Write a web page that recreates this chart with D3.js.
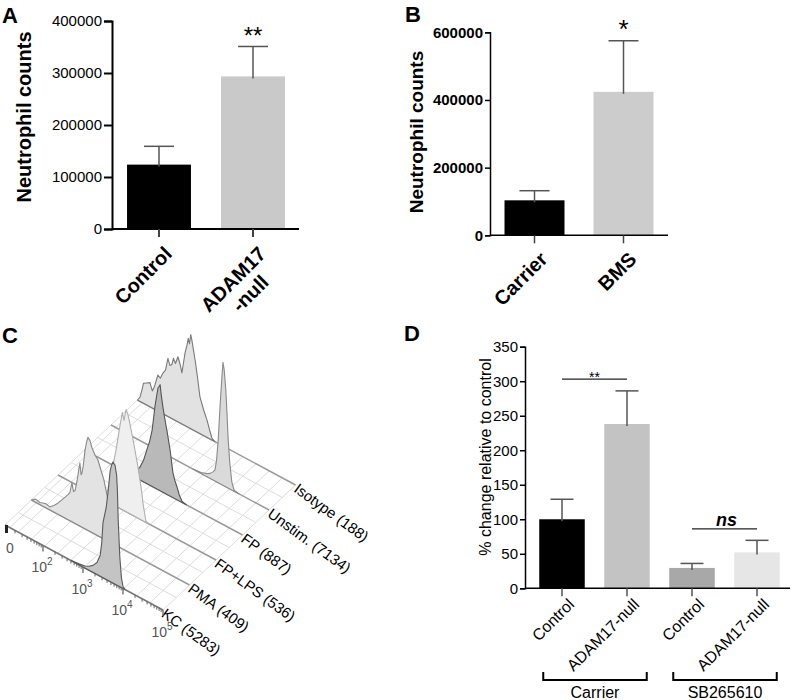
<!DOCTYPE html>
<html><head><meta charset="utf-8">
<script src="https://cdn.jsdelivr.net/npm/d3@7"></script>
<style>body{margin:0;background:#fff}svg{display:block}text{font-family:"Liberation Sans",Arial,sans-serif}</style>
</head><body>
<svg id="chart" width="792" height="700"></svg>
<script>
// ---------------- DATA ----------------
const aCategories = [["Control"], ["ADAM17", "-null"]];
const aMeans = [123800, 293500];
const aErrors = [35200, 57500];
const aTicks = [0, 100000, 200000, 300000, 400000];
const aSig = "**";

const bCategories = [["Carrier"], ["BMS"]];
const bMeans = [103400, 424000];
const bErrors = [28400, 151000];
const bTicks = [0, 200000, 400000, 600000];
const bSig = "*";

const dCategories = ["Control", "ADAM17-null", "Control", "ADAM17-null"];
const dMeans = [100, 238, 29.5, 52];
const dErrors = [29, 48, 6.5, 17.5];
const dTicks = [0, 50, 100, 150, 200, 250, 300, 350];
const dGroups = ["Carrier", "SB265610"];
const dGroupMembers = [[0, 1], [2, 3]];
const dSigLabels = ["**", "ns"];
const dSigPairs = [[0, 1], [2, 3]];
const dSigLevels = [303, 86];

// Panel C: flow cytometry histograms, front (KC) to back (Isotype)
const cSamples = ["KC (5283)", "PMA (409)", "FP+LPS (536)", "FP (887)", "Unstim. (7134)", "Isotype (188)"];
// [log10 fluorescence, count]
const histKC = [[2.7,0],[2.9,1],[3.05,2],[3.15,4],[3.25,7],[3.35,12],[3.43,21],[3.47,35],[3.5,55],[3.58,72],[3.63,90],[3.68,111],[3.72,118],[3.75,121],[3.8,119],[3.84,110],[3.86,95],[3.88,66],[3.92,30],[3.96,10],[4.0,2],[4.05,0]];
const histPMA = [[1.05,0],[1.15,3],[1.26,2],[1.4,4],[1.51,3],[1.62,7],[1.71,11],[1.8,16],[1.89,21],[1.96,25],[2.01,28],[2.06,39],[2.1,31],[2.14,33],[2.19,44],[2.23,55],[2.26,63],[2.29,52],[2.31,54],[2.34,61],[2.39,79],[2.43,88],[2.46,93],[2.51,91],[2.56,85],[2.64,79],[2.71,76],[2.78,68],[2.86,59],[2.94,45],[3.01,32],[3.08,18],[3.16,8],[3.26,0]];
const histFPLPS = [[2.15,0],[2.3,12],[2.4,34],[2.5,56],[2.6,83],[2.66,97],[2.7,90],[2.75,102],[2.79,99],[2.83,93],[2.93,75],[3.03,55],[3.1,39],[3.15,26],[3.18,16],[3.25,1],[3.3,0]];
const histFP = [[2.15,0],[2.3,4],[2.44,13],[2.53,22],[2.61,34],[2.68,44],[2.74,56],[2.78,70],[2.81,81],[2.85,92],[2.89,102],[2.92,104],[2.94,106],[2.97,96],[3.01,85],[3.06,74],[3.11,64],[3.15,55],[3.19,46],[3.23,34],[3.26,25],[3.31,18],[3.36,13],[3.42,6],[3.49,1],[3.6,0]];
const histUnstim = [[3.1,0],[3.3,1],[3.45,3],[3.53,5],[3.6,8],[3.65,11],[3.69,22],[3.73,43],[3.78,80],[3.82,106],[3.85,123],[3.88,116],[3.92,97],[3.95,74],[3.98,48],[4.02,26],[4.07,8],[4.13,1],[4.25,0]];
const histIsotype = [[1.05,0],[1.11,4],[1.16,12],[1.2,20],[1.28,22],[1.36,24],[1.42,17],[1.47,22],[1.56,36],[1.62,34],[1.69,41],[1.75,45],[1.81,58],[1.86,52],[1.91,54],[1.95,61],[2.0,57],[2.06,65],[2.12,58],[2.16,51],[2.2,62],[2.24,73],[2.28,80],[2.32,89],[2.35,84],[2.38,94],[2.41,89],[2.45,80],[2.49,71],[2.55,55],[2.61,37],[2.7,26],[2.79,17],[2.85,9],[2.91,2],[2.99,0]];
const cHists = [histKC, histPMA, histFPLPS, histFP, histUnstim, histIsotype];
const cMajorTicks = [1.1, 2, 3, 4, 5];
const cTickLabels = ["0", "10", "10", "10", "10"];
const cTickExps = ["", "2", "3", "4", "5"];

// ---------------- STYLE ----------------
const cFills = ["#c4c4c4", "#e3e3e3", "#efefef", "#b9b9b9", "#dadada", "#e2e2e2"];
const cStrokes = ["#5a5a5a", "#8a8a8a", "#b0b0b0", "#555555", "#8a8a8a", "#7a7a7a"];
const svg = d3.select("#chart");
const FONT = '"Liberation Sans", Arial, sans-serif';

function panelLetter(t, x, y) {
  svg.append("text").attr("x", x).attr("y", y).attr("font-size", 22).attr("font-weight", "bold").text(t);
}

function rotLabel(g, lines, x, y, size, weight) {
  const t = g.append("g").attr("transform", `translate(${x},${y}) rotate(-45)`);
  const first = t.append("text").attr("text-anchor", "end").attr("dy", "0.72em")
    .attr("font-size", size).attr("font-weight", weight).text(lines[0]);
  if (lines.length > 1) {
    const w = first.node().getComputedTextLength();
    t.append("text").attr("text-anchor", "middle").attr("x", -w / 2 + 2).attr("dy", (0.72 + 1.1) + "em")
      .attr("font-size", size).attr("font-weight", weight).text(lines[1]);
  }
}

function barPanel(o) {
  const g = svg.append("g");
  const x = d3.scaleBand().domain(d3.range(o.means.length)).range(o.xRange).paddingInner(o.pi).paddingOuter(o.po);
  const y = d3.scaleLinear().domain(o.yDomain).range(o.yRange);
  g.selectAll("rect.bar").data(o.means).join("rect")
    .attr("x", (d, i) => x(i)).attr("width", x.bandwidth())
    .attr("y", d => y(d)).attr("height", d => y(0) - y(d))
    .attr("fill", (d, i) => o.colors[i]);
  o.means.forEach((m, i) => {
    const cx = x(i) + x.bandwidth() / 2;
    g.append("line").attr("x1", cx).attr("x2", cx).attr("y1", y(m) + 2).attr("y2", y(m + o.errors[i]))
      .attr("stroke", o.errColor).attr("stroke-width", o.errW);
    g.append("line").attr("x1", cx - o.capW / 2).attr("x2", cx + o.capW / 2)
      .attr("y1", y(m + o.errors[i])).attr("y2", y(m + o.errors[i]))
      .attr("stroke", o.errColor).attr("stroke-width", o.errW);
  });
  const yAxis = d3.axisLeft(y).tickValues(o.ticks).tickSize(o.tickLen).tickPadding(2).tickFormat(d3.format("d"));
  const ya = g.append("g").attr("transform", `translate(${o.xRange0},0)`).call(yAxis);
  ya.select(".domain").attr("stroke", "#000").attr("stroke-width", o.axisW);
  ya.selectAll(".tick line").attr("stroke", "#000").attr("stroke-width", o.axisW);
  ya.selectAll(".tick text").attr("font-size", o.tickFont).attr("font-weight", o.tickWeight)
    .attr("font-family", FONT).attr("fill", "#000");
  g.append("line").attr("x1", o.xRange0).attr("x2", o.xEnd).attr("y1", y(0)).attr("y2", y(0))
    .attr("stroke", "#000").attr("stroke-width", o.axisW);
  o.means.forEach((m, i) => {
    const cx = x(i) + x.bandwidth() / 2;
    g.append("line").attr("x1", cx).attr("x2", cx).attr("y1", y(0)).attr("y2", y(0) + o.xTickLen)
      .attr("stroke", o.xTickColor).attr("stroke-width", o.axisW);
    rotLabel(g, o.labels[i], cx + o.labOff[0], y(0) + o.labOff[1], o.labFont, o.labWeight);
  });
  g.append("text").attr("transform", `translate(${o.titleX},${o.titleY}) rotate(-90)`)
    .attr("text-anchor", "middle").attr("font-size", o.titleFont).attr("font-weight", o.titleWeight).text(o.title);
  return { g, x, y };
}

// ---------------- PANEL A ----------------
panelLetter("A", 2, 23);
const A = barPanel({
  means: aMeans, errors: aErrors, ticks: aTicks, labels: aCategories,
  xRange: [112, 300], xRange0: 112, xEnd: 299, pi: 0.32, po: 0.16,
  yDomain: [0, 400000], yRange: [229, 21],
  colors: ["#000000", "#c9c9c9"], errColor: "#555", errW: 1.5, capW: 30,
  tickLen: 8, tickFont: 15, tickWeight: "normal", axisW: 2, xTickLen: 8, xTickColor: "#444",
  labOff: [4, 16], labFont: 20, labWeight: "bold",
  title: "Neutrophil counts", titleX: 31, titleY: 117, titleFont: 20, titleWeight: "bold"
});
svg.append("text").attr("x", A.x(1) + A.x.bandwidth() / 2).attr("y", A.y(aMeans[1] + aErrors[1]) - 2)
  .attr("text-anchor", "middle").attr("font-size", 24).text(aSig);

// ---------------- PANEL B ----------------
panelLetter("B", 405, 22);
const B = barPanel({
  means: bMeans, errors: bErrors, ticks: bTicks, labels: bCategories,
  xRange: [490, 668], xRange0: 490, xEnd: 668, pi: 0.326, po: 0.163,
  yDomain: [0, 600000], yRange: [235.3, 32.3],
  colors: ["#000000", "#cccccc"], errColor: "#555", errW: 1.5, capW: 30,
  tickLen: 5, tickFont: 15, tickWeight: "bold", axisW: 1.5, xTickLen: 8, xTickColor: "#444",
  labOff: [4, 15], labFont: 20, labWeight: "bold",
  title: "Neutrophil counts", titleX: 423, titleY: 132, titleFont: 19, titleWeight: "bold"
});
svg.append("text").attr("x", B.x(1) + B.x.bandwidth() / 2).attr("y", B.y(bMeans[1] + bErrors[1]) - 3)
  .attr("text-anchor", "middle").attr("font-size", 26).text(bSig);

// ---------------- PANEL D ----------------
panelLetter("D", 404, 341);
const D = barPanel({
  means: dMeans, errors: dErrors, ticks: dTicks, labels: dCategories.map(s => [s]),
  xRange: [529.5, 789.5], xRange0: 525, xEnd: 790, pi: 0.3, po: 0.15,
  yDomain: [0, 350], yRange: [588.3, 346.7],
  colors: ["#000000", "#c3c3c3", "#a8a8a8", "#e6e6e6"], errColor: "#555", errW: 1.5, capW: 23,
  tickLen: 5, tickFont: 15, tickWeight: "normal", axisW: 1.5, xTickLen: 8, xTickColor: "#555",
  labOff: [5, 9], labFont: 16, labWeight: "normal",
  title: "% change relative to control", titleX: 491, titleY: 457, titleFont: 16, titleWeight: "normal"
});
dSigPairs.forEach((p, i) => {
  const x1 = D.x(p[0]) + D.x.bandwidth() / 2, x2 = D.x(p[1]) + D.x.bandwidth() / 2;
  const yy = D.y(dSigLevels[i]);
  svg.append("line").attr("x1", x1).attr("x2", x2).attr("y1", yy).attr("y2", yy).attr("stroke", "#222").attr("stroke-width", 1.3);
  const t = svg.append("text").attr("x", (x1 + x2) / 2 + (i ? 2 : 0)).attr("y", yy - 3).attr("text-anchor", "middle").text(dSigLabels[i]);
  if (i === 0) t.attr("font-size", 14).attr("dy", 6);
  else t.attr("font-size", 18).attr("font-weight", "bold").attr("font-style", "italic");
});
const bracketY = 680;
dGroups.forEach((name, i) => {
  const m = dGroupMembers[i];
  const x1 = D.x(m[0]) + 4, x2 = D.x(m[1]) + D.x.bandwidth() - 3;
  svg.append("path").attr("d", `M${x1},${bracketY - 8}V${bracketY}H${x2}V${bracketY - 8}`)
    .attr("fill", "none").attr("stroke", "#000").attr("stroke-width", 2);
  svg.append("text").attr("x", (x1 + x2) / 2).attr("y", bracketY + 18).attr("text-anchor", "middle")
    .attr("font-size", 16).text(name);
});

// ---------------- PANEL C ----------------
panelLetter("C", 2, 343);
const cOrigin = [5, 525];
const cXVec = [158, 85];
const cDVec = [26.5, -25];
const tScale = d3.scaleLinear().domain([1.05, 5]).range([0, 1]);
const hScale = d3.scaleLinear().domain([0, 130]).range([0, 130]);
function proj(u, d, h) {
  const t = tScale(u);
  return [cOrigin[0] + cXVec[0] * t + cDVec[0] * d, cOrigin[1] + cXVec[1] * t + cDVec[1] * d - hScale(h)];
}
const cg = svg.append("g");
const nRows = cSamples.length;
const uMin = 1.05, uMax = 5;
const gridG = cg.append("g").attr("stroke", "#dcdcdc").attr("stroke-width", 1).attr("fill", "none");
d3.range(0, 13).forEach(k => {
  const u = tScale.invert(k / 12);
  const a = proj(u, 0, 0), b = proj(u, nRows - 1, 0);
  gridG.append("line").attr("x1", a[0]).attr("y1", a[1]).attr("x2", b[0]).attr("y2", b[1]);
});
d3.range(0, nRows - 1).forEach(d => {
  const a = proj(uMin, d + 0.5, 0), b = proj(uMax, d + 0.5, 0);
  gridG.append("line").attr("x1", a[0]).attr("y1", a[1]).attr("x2", b[0]).attr("y2", b[1]);
});
{
  const a = proj(uMin + 0.12, 0, 0), b = proj(uMin + 0.12, nRows - 1 + 0.3, 0);
  gridG.append("line").attr("x1", a[0]).attr("y1", a[1]).attr("x2", b[0]).attr("y2", b[1]);
}
const line = d3.line().x(p => p[0]).y(p => p[1]);
for (let d = nRows - 1; d >= 0; d--) {
  const a = proj(uMin, d, 0), b = proj(uMax, d, 0);
  cg.append("line").attr("x1", a[0]).attr("y1", a[1]).attr("x2", b[0]).attr("y2", b[1])
    .attr("stroke", d === 0 ? "#777" : "#9a9a9a").attr("stroke-width", 1.5);
  const pts = cHists[d].map(p => proj(p[0], d, p[1]));
  cg.append("path").attr("d", line(pts) + "Z").attr("fill", cFills[d]).attr("stroke", cStrokes[d]).attr("stroke-width", 1.1)
    .attr("stroke-linejoin", "round");
  cg.append("text").attr("transform", `translate(${b[0] + 4},${b[1] - 3}) rotate(36)`)
    .attr("dy", "0.75em").attr("font-size", 15).text(cSamples[d]);
}
const axG = cg.append("g").attr("stroke", "#666").attr("stroke-width", 1);
const minors = [];
[1, 2, 3, 4].forEach(n => d3.range(2, 10).forEach(k => minors.push(n + Math.log10(k))));
minors.forEach(u => {
  const p = proj(u, 0, 0);
  axG.append("line").attr("x1", p[0]).attr("x2", p[0]).attr("y1", p[1]).attr("y2", p[1] + 3);
});
cMajorTicks.forEach((u, i) => {
  const p = proj(u, 0, 0);
  axG.append("line").attr("x1", p[0]).attr("x2", p[0]).attr("y1", p[1]).attr("y2", p[1] + 6).attr("stroke-width", 1.3);
  const t = cg.append("text").attr("x", p[0] + (cTickExps[i] ? -1 : 3)).attr("y", p[1] + 27)
    .attr("text-anchor", "middle").attr("font-size", 14).attr("fill", "#555").text(cTickLabels[i]);
  if (cTickExps[i]) t.append("tspan").attr("dy", -7).attr("font-size", 10).text(cTickExps[i]);
});
{
  const p = proj(uMin, 0, 0);
  cg.append("rect").attr("x", p[0]).attr("y", p[1]).attr("width", 3).attr("height", 8).attr("fill", "#222");
}
</script>
</body></html>
